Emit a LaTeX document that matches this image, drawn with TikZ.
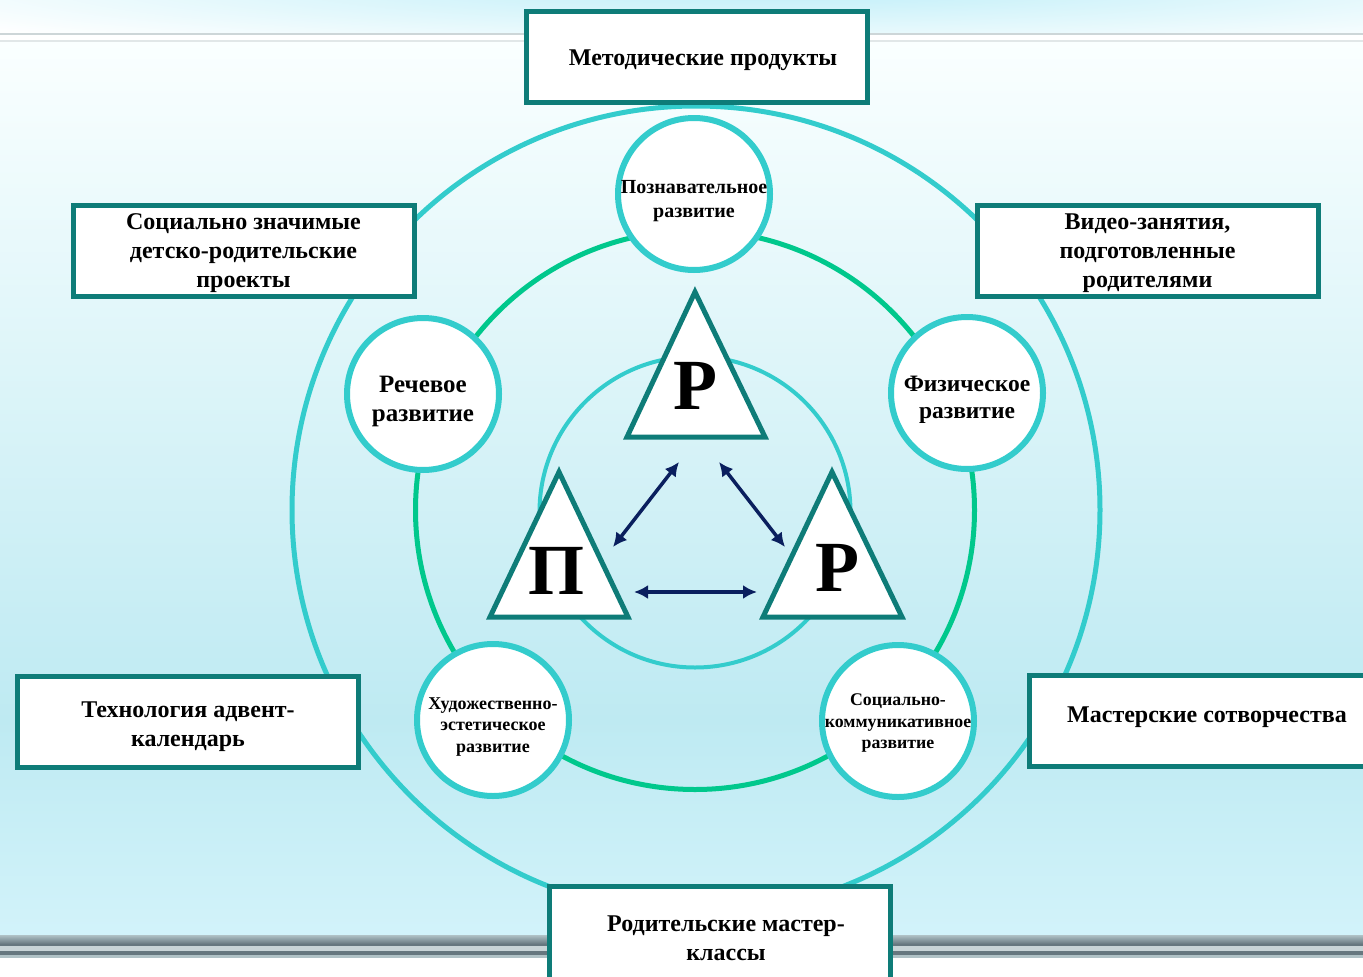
\documentclass[tikz,border=0pt]{standalone}
\usepackage{fontspec}
\usepackage{graphicx}
\setmainfont{Liberation Serif}
\usetikzlibrary{arrows.meta}
\definecolor{turq}{HTML}{33CCCC}
\definecolor{grn}{HTML}{00C88C}
\definecolor{tealb}{HTML}{0E7C78}
\definecolor{navy}{HTML}{0A1F5E}
\definecolor{bgtop}{HTML}{FAFFFF}
\definecolor{bgmid}{HTML}{BEEAF2}
\definecolor{bgbot}{HTML}{D2F3FA}
\definecolor{glow}{HTML}{BDEEF8}
\definecolor{lineg}{HTML}{CDD6D8}
\definecolor{bandd}{HTML}{66777F}
\definecolor{bandl}{HTML}{B0C2C6}
\tikzset{
  boxs/.style={draw=tealb, line width=5pt, fill=white, minimum width=341pt, minimum height=91pt,
    inner sep=0pt},
  btext/.style={inner sep=0pt, align=center, font=\fontsize{24}{29}\selectfont\bfseries},
  smallc/.style={circle, draw=turq, line width=6pt, fill=white, minimum size=152pt,
    inner sep=0pt},
  ctext/.style={inner sep=0pt, align=center},
  bigring/.style={circle, draw=#1, fill=none, inner sep=0pt},
  tri/.style={draw=tealb, line width=5pt, fill=white, line join=miter},
  letter/.style={inner sep=0pt, font=\fontsize{72}{72}\selectfont\bfseries},
  arr/.style={draw=navy, line width=3.5pt, {Latex[length=14pt,width=14pt]}-{Latex[length=14pt,width=14pt]}}
}
\begin{document}
\begin{tikzpicture}[x=1pt,y=-1pt]
\useasboundingbox (0,0) rectangle (1363,977);
\clip (0,0) rectangle (1363,977);
% background
\fill[white] (0,0) rectangle (1363,977);
\begin{scope}
  \clip (0,0) rectangle (1363,33);
  \shade[inner color=glow, outer color=white] (780,-15) ellipse [x radius=1000, y radius=75];
\end{scope}
\fill[lineg] (0,33) rectangle (1363,35);
\fill[lineg!60] (0,40) rectangle (1363,42);
\shade[top color=bgtop, bottom color=bgmid] (0,42) rectangle (1363,720);
\shade[top color=bgmid, bottom color=bgbot] (0,719) rectangle (1363,935);
\shade[top color=bandl, bottom color=bandd] (0,935) rectangle (1363,944);
\fill[bandd] (0,944) rectangle (1363,946);
\fill[bandl!70] (0,946) rectangle (1363,951);
\fill[bandd] (0,951) rectangle (1363,955);
\fill[bandl] (0,955) rectangle (1363,958);
% rings
\node[bigring=turq, line width=5pt, minimum size=808pt] (outer) at (696,510) {};
\node[bigring=grn, line width=5pt, minimum size=559pt] (mid) at (695,510) {};
\node[bigring=turq, line width=4pt, minimum size=311pt] (inner) at (695,512) {};
% small circles
\node[smallc, label={[ctext, yshift=-7pt, font=\fontsize{20}{24}\selectfont\bfseries]center:{Познавательное\\развитие}}] (pozn) at (694,194) {};
\node[smallc, label={[ctext, yshift=-7pt, font=\fontsize{25}{29}\selectfont\bfseries]center:{Речевое\\развитие}}] (rech) at (423,394) {};
\node[smallc, label={[ctext, yshift=-7pt, font=\fontsize{23.5}{27}\selectfont\bfseries]center:{Физическое\\развитие}}] (fiz) at (967,393) {};
\node[smallc, label={[ctext, yshift=-7pt, font=\fontsize{18}{21.5}\selectfont\bfseries]center:{Художественно-\\эстетическое\\развитие}}] (hud) at (493,720) {};
\node[smallc, label={[ctext, yshift=-2pt, font=\fontsize{17.8}{21.5}\selectfont\bfseries]center:{Социально-\\коммуникативное\\развитие}}] (soc) at (898,721) {};
% triangles
\draw[tri] (695,292) -- (765,437) -- (627,437) -- cycle;
\draw[tri] (559,472) -- (628,617) -- (490,617) -- cycle;
\draw[tri] (832,472) -- (902,617) -- (763,617) -- cycle;
\node[letter] (rtop) at (695,386) {Р};
\node[letter] (pleft) at (556,571) {П};
\node[letter] (rright) at (837,568) {Р};
% arrows
\coordinate (a1s) at (679,462); \coordinate (a1e) at (613,547);
\coordinate (a2s) at (719,462); \coordinate (a2e) at (785,547);
\coordinate (a3s) at (634,592); \coordinate (a3e) at (757,592);
\draw[arr] (a1s) -- (a1e);
\draw[arr] (a2s) -- (a2e);
\draw[arr] (a3s) -- (a3e);
% boxes
\node[boxs, label={[btext, xshift=6pt, yshift=-3pt]center:{Методические продукты}}] (metod) at (697,57) {};
\node[boxs, label={[btext, yshift=-2pt]center:{Социально значимые\\детско-родительские\\проекты}}] (proj) at (243.5,251) {};
\node[boxs, label={[btext, yshift=-2pt]center:{Видео-занятия,\\подготовленные\\родителями}}] (video) at (1147.5,251) {};
\node[boxs, label={[btext, yshift=-5pt]center:{Технология адвент-\\календарь}}] (advent) at (188,721.5) {};
\node[boxs, label={[btext, xshift=7pt, yshift=4pt]center:{Мастерские сотворчества}}] (master) at (1200,721) {};
\node[boxs, minimum height=101pt, label={[btext, xshift=6pt, yshift=-1pt]center:{Родительские мастер-\\классы}}] (roditel) at (720,937) {};
\end{tikzpicture}
\end{document}
